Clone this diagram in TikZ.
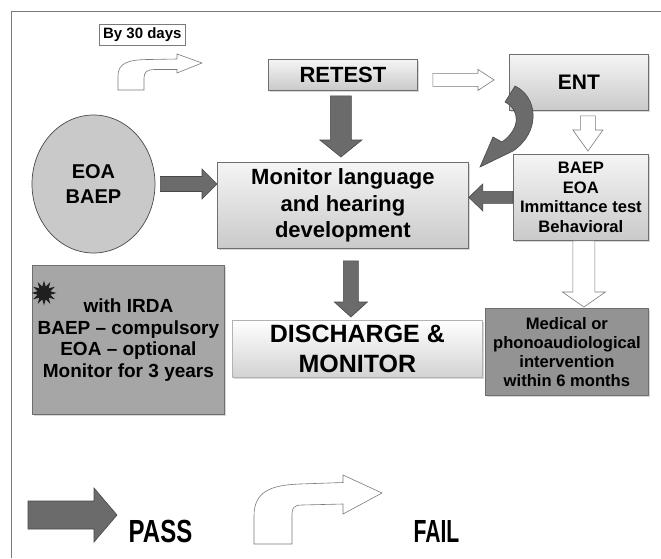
\documentclass[tikz,border=0pt]{standalone}
\usepackage{fontspec}
\setmainfont{Liberation Sans}
\usetikzlibrary{shapes.geometric,shadows,calc}
\definecolor{arrowgray}{HTML}{6B6B6B}
\definecolor{arrowedge}{HTML}{484848}
\definecolor{boxedge}{HTML}{6E6E6E}
\definecolor{framegray}{HTML}{7A7A7A}
\newcommand\fs[2]{\bfseries\fontsize{#1}{#2}\selectfont}
\newcommand\blockarrow[6][]{%
  \coordinate (ba-c) at ($(#3)!#6!(#2)$);
  \draw[#1] ($(#2)!#4!90:(#3)$) -- ($(ba-c)!#4!90:(#3)$) -- ($(ba-c)!#5!90:(#3)$)
    -- (#3) -- ($(ba-c)!#5!-90:(#3)$) -- ($(ba-c)!#4!-90:(#3)$) -- ($(#2)!#4!-90:(#3)$) -- cycle;}
\begin{document}
\begin{tikzpicture}[x=1pt,y=-1pt,font=\bfseries,
  shade/.style={drop shadow={opacity=0.3,shadow xshift=1.5pt,shadow yshift=-1.5pt}},
  gbox/.style={draw=boxedge,line width=0.8pt,top color=gray!8,bottom color=gray!42,
    anchor=north west,inner sep=0pt,align=center,shade},
  flatbox/.style={draw=boxedge,line width=0.8pt,anchor=north west,inner sep=0pt,align=center,shade},
  darrow/.style={fill=arrowgray,draw=arrowedge,line width=0.6pt},
  warrow/.style={fill=white,draw=framegray,line width=0.6pt},
  keytext/.style={inner sep=0pt,anchor=center}]
\useasboundingbox (0,0) rectangle (661,558);
\fill[white] (0,0) rectangle (661,558);
% frame
\draw[framegray,line width=0.8pt] (11,558) -- (11,11) -- (661,11);

% boxes
\node[draw=framegray,line width=0.6pt,fill=white,anchor=north west,minimum width=86pt,minimum height=21pt,inner sep=0pt,
  font={\fs{15}{18}}] (days) at (99,24) {By 30 days};
\node[gbox,minimum width=149pt,minimum height=31pt,font={\fs{22}{26}}] (retest) at (268,59) {RETEST};
\node[gbox,minimum width=139pt,minimum height=56pt,font={\fs{21}{25}}] (ent) at (509,54) {ENT};
\node[gbox,minimum width=251pt,minimum height=86pt,font={\fs{22}{26.5}}] (monitor) at (217,162)
  {Monitor language\\and hearing\\development};
\node[ellipse,draw=arrowedge,line width=0.7pt,fill=gray!42,minimum width=123pt,minimum height=138pt,inner sep=0pt,align=center,
  font={\fs{20}{25}}] (eoa) at (93.5,184) {EOA\\BAEP};
\node[gbox,minimum width=135pt,minimum height=86pt,font={\fs{16.6}{19.5}}] (baep) at (513,154)
  {BAEP\\EOA\\Immittance test\\Behavioral};
\node[flatbox,fill=gray!70,minimum width=192pt,minimum height=149pt,font={\fs{19}{21.5}}] (irda) at (32,265)
  {with IRDA\\BAEP -- compulsory\\EOA -- optional\\Monitor for 3 years};
\node[star,star points=12,star point ratio=1.9,fill=black!88,minimum size=25pt,inner sep=0pt] (burst) at (44,293) {};
\node[draw=gray!60,line width=0.8pt,top color=white,bottom color=gray!35,anchor=north west,inner sep=0pt,align=center,
  minimum width=250pt,minimum height=57pt,shade,font={\fs{25}{30}}] (discharge) at (232,320) {DISCHARGE \&\\MONITOR};
\node[flatbox,fill=gray!85,minimum width=163pt,minimum height=87pt,font={\fs{16.6}{19}}] (medical) at (485,308)
  {Medical or\\phonoaudiological\\intervention\\within 6 months};

% straight block arrows
\coordinate (t1) at ($(eoa.east)+(5,0)$);
\coordinate (h1) at (monitor.west |- eoa.east);
\blockarrow[darrow]{t1}{h1}{7.5pt}{15pt}{15pt}
\coordinate (t2) at (baep.west);
\coordinate (h2) at (monitor.east |- baep.west);
\blockarrow[darrow]{t2}{h2}{6pt}{13.5pt}{14pt}
\coordinate (t3) at ($(retest.south)+(-2,5)$);
\coordinate (h3) at ($(retest.south |- monitor.north)+(-2,-5)$);
\blockarrow[darrow]{t3}{h3}{10.5pt}{21pt}{17pt}
\coordinate (t4) at ($(monitor.south)+(8,12)$);
\coordinate (h4) at ($(discharge.north)+(-6.5,-3)$);
\blockarrow[darrow]{t4}{h4}{7.5pt}{16.5pt}{15pt}
\coordinate (t5) at ($(retest.east)+(15,5)$);
\coordinate (h5) at ($(ent.west)+(-15,-2.5)$);
\blockarrow[warrow]{t5}{h5}{6.5pt}{10.5pt}{16pt}
\coordinate (t6) at ($(ent.south)+(9,5)$);
\coordinate (h6) at ($(baep.north)+(7,-3)$);
\blockarrow[warrow]{t6}{h6}{7.5pt}{15pt}{21pt}
\coordinate (t7) at ($(baep.south)+(3,0)$);
\coordinate (h7) at ($(medical.north)+(17,-1)$);
\blockarrow[warrow]{t7}{h7}{11pt}{21.5pt}{15pt}

% curved arrow ENT -> monitor
\draw[darrow] (515,86) .. controls (538,97) and (541,132) .. (513,151) -- (480,167) -- (493,137)
  -- (502,142) .. controls (521,128) and (520,110) .. (505,102) -- cycle;

% fail key arrow (top)
\draw[warrow] (118,90) -- (118,76) .. controls (118,63) and (128,59.5) .. (150,59.5) -- (177,59) -- (177,54)
  -- (202,63) -- (177,73) -- (177,69.5) -- (155,69.5) .. controls (147,69.5) and (144,72) .. (144,78) -- (144,90) -- cycle;

% legend
\coordinate (pt) at (28,515);
\coordinate (ph) at (117,515);
\blockarrow[darrow]{pt}{ph}{14pt}{27pt}{23pt}
\node[keytext,font={\fs{32}{36}}] (pass) at (160.5,531.5) {\scalebox{0.75}[1]{PASS}};
\draw[warrow] (254,544) -- (254,516) .. controls (254,492) and (270,485) .. (300,484) -- (343,482.5) -- (343,475)
  -- (382,493) -- (343,514) -- (343,504) -- (302,505) .. controls (294,505) and (292,508) .. (292,514) -- (292,544) -- cycle;
\node[keytext,font={\fs{32}{36}}] (fail) at (436.5,531.5) {\scalebox{0.66}[1]{FAIL}};
\end{tikzpicture}
\end{document}
